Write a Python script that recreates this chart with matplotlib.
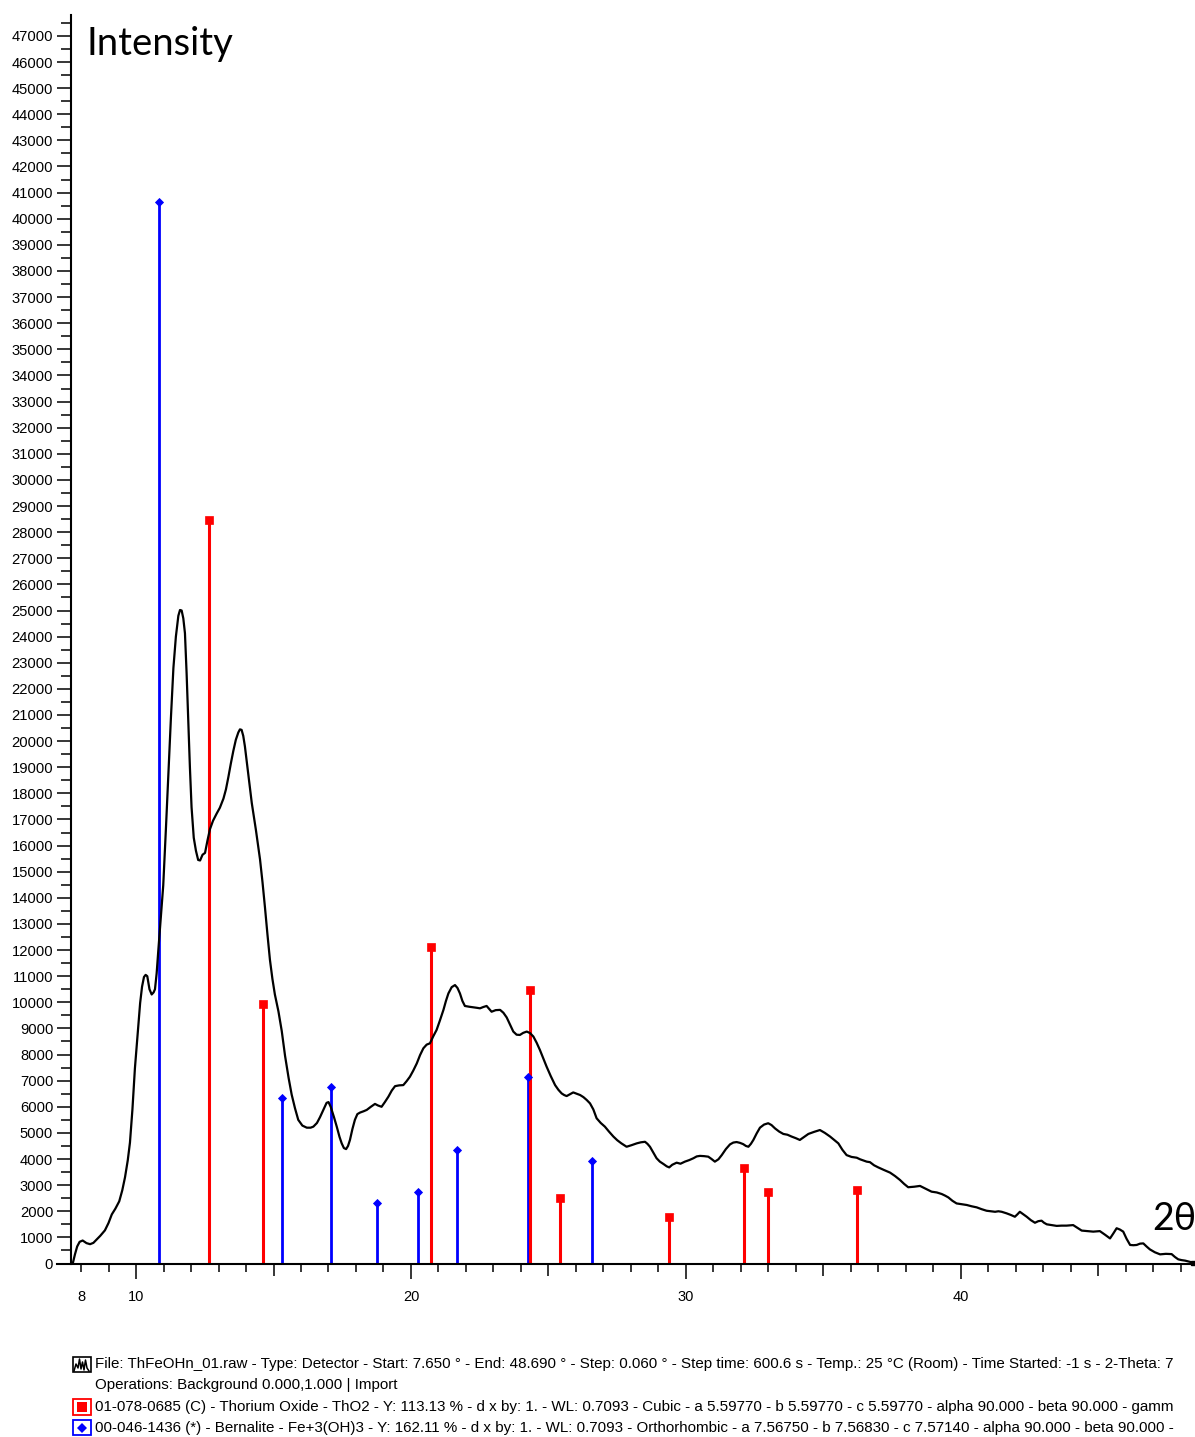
import matplotlib
matplotlib.use("Agg")
import matplotlib.pyplot as plt
import matplotlib.transforms as mtransforms
from matplotlib.patches import Rectangle
from matplotlib.lines import Line2D
from matplotlib.ticker import MultipleLocator

# ── Data ────────────────────────────────────────────────────
two_theta = [
    7.70, 7.78, 7.86, 7.95, 8.06, 8.20, 8.33, 8.45, 8.55, 8.70, 8.87, 9.00, 9.12, 9.25,
    9.39, 9.50, 9.60, 9.70, 9.78, 9.87, 9.96, 10.06, 10.15, 10.22, 10.29, 10.35, 10.41,
    10.49, 10.57, 10.64, 10.69, 10.75, 10.81, 10.90, 10.99, 11.09, 11.18, 11.27, 11.36,
    11.45, 11.54, 11.60, 11.66, 11.72, 11.78, 11.84, 11.90, 11.96, 12.02, 12.10, 12.18,
    12.26, 12.33, 12.42, 12.51, 12.60, 12.69, 12.80, 12.93, 13.05, 13.18, 13.27, 13.36,
    13.45, 13.54, 13.63, 13.72, 13.78, 13.84, 13.90, 13.96, 14.08, 14.21, 14.36, 14.51,
    14.60, 14.69, 14.78, 14.87, 14.96, 15.05, 15.18, 15.30, 15.42, 15.55, 15.66, 15.78,
    15.90, 16.05, 16.21, 16.35, 16.45, 16.58, 16.69, 16.81, 16.93, 17.00, 17.08, 17.20,
    17.30, 17.40, 17.48, 17.56, 17.64, 17.71, 17.78, 17.87, 17.96, 18.05, 18.15, 18.28,
    18.39, 18.54, 18.69, 18.80, 18.93, 19.05, 19.18, 19.30, 19.42, 19.57, 19.72, 19.84,
    19.96, 20.08, 20.21, 20.33, 20.45, 20.57, 20.69, 20.81, 20.93, 21.05, 21.18, 21.27,
    21.36, 21.48, 21.60, 21.69, 21.78, 21.87, 21.96, 22.12, 22.27, 22.39, 22.51, 22.63,
    22.75, 22.84, 22.93, 23.08, 23.24, 23.36, 23.48, 23.60, 23.72, 23.84, 23.96, 24.08,
    24.21, 24.33, 24.45, 24.57, 24.69, 24.81, 24.93, 25.08, 25.24, 25.36, 25.48, 25.57,
    25.66, 25.78, 25.90, 26.02, 26.15, 26.27, 26.39, 26.51, 26.63, 26.75, 26.90, 27.05,
    27.20, 27.36, 27.50, 27.65, 27.84, 28.02, 28.21, 28.36, 28.51, 28.60, 28.69, 28.81,
    28.93, 29.05, 29.18, 29.30, 29.39, 29.50, 29.66, 29.80, 29.96, 30.12, 30.27, 30.39,
    30.51, 30.66, 30.81, 30.93, 31.05, 31.18, 31.30, 31.45, 31.60, 31.72, 31.84, 31.96,
    32.08, 32.18, 32.27, 32.36, 32.45, 32.57, 32.69, 32.84, 32.99, 33.11, 33.24, 33.39,
    33.54, 33.69, 33.84, 33.99, 34.14, 34.30, 34.45, 34.66, 34.87, 35.05, 35.24, 35.39,
    35.54, 35.69, 35.84, 36.02, 36.21, 36.33, 36.57, 36.69, 36.84, 36.99, 37.20, 37.42,
    37.60, 37.78, 37.93, 38.08, 38.30, 38.51, 38.72, 38.93, 39.12, 39.30, 39.42, 39.54,
    39.69, 39.84, 40.03, 40.21, 40.39, 40.57, 40.75, 40.93, 41.09, 41.24, 41.36, 41.48,
    41.66, 41.81, 41.96, 42.05, 42.14, 42.27, 42.39, 42.54, 42.69, 42.81, 42.93, 43.02,
    43.12, 43.30, 43.48, 43.66, 43.84, 43.96, 44.08, 44.24, 44.39, 44.60, 44.81, 44.93,
    45.05, 45.24, 45.42, 45.54, 45.66, 45.78, 45.90, 46.02, 46.15, 46.27, 46.39, 46.51,
    46.63, 46.75, 46.87, 47.05, 47.24, 47.45, 47.66, 47.78, 47.90, 48.02, 48.15, 48.30,
    48.45,
]
intensity = [
    0, 350, 650, 830, 880, 780, 740, 790, 900, 1060, 1270, 1550, 1880, 2100,
    2380, 2800, 3300, 3950, 4630, 5900, 7470, 8800, 9970, 10600, 10970, 11050, 11000,
    10500, 10300, 10380, 10500, 11100, 11970, 13200, 14470, 16700, 18800, 20900, 22800,
    24000, 24800, 25020, 25000, 24700, 24130, 22600, 20800, 19000, 17470, 16300, 15800,
    15450, 15430, 15650, 15720, 16200, 16630, 16950, 17220, 17450, 17800, 18150, 18630,
    19150, 19630, 20050, 20330, 20450, 20430, 20200, 19800, 18750, 17630, 16600, 15470,
    14600, 13630, 12600, 11630, 10900, 10300, 9650, 8900, 7950, 7100, 6470, 5950,
    5500, 5280, 5200, 5200, 5240, 5380, 5600, 5880, 6150, 6180, 6000, 5600,
    5240, 4850, 4600, 4420, 4380, 4500, 4730, 5150, 5500, 5720, 5780, 5830,
    5880, 6000, 6110, 6050, 6000, 6180, 6390, 6620, 6790, 6820, 6830, 6980,
    7150, 7380, 7660, 7980, 8240, 8380, 8430, 8700, 8940, 9300, 9710, 10050,
    10340, 10580, 10660, 10550, 10340, 10050, 9860, 9830, 9810, 9790, 9770, 9820,
    9860, 9750, 9640, 9700, 9710, 9600, 9420, 9150, 8880, 8760, 8750, 8830,
    8880, 8820, 8690, 8450, 8170, 7850, 7540, 7180, 6830, 6650, 6510, 6450,
    6410, 6480, 6550, 6500, 6450, 6370, 6260, 6130, 5900, 5560, 5380, 5240,
    5050, 4860, 4720, 4600, 4470, 4530, 4600, 4640, 4660, 4580, 4470, 4250,
    4030, 3900, 3810, 3720, 3680, 3780, 3860, 3820, 3900, 3960, 4030, 4100,
    4120, 4110, 4090, 4000, 3900, 3990, 4150, 4380, 4560, 4630, 4650, 4620,
    4570, 4500, 4470, 4580, 4730, 4980, 5200, 5320, 5370, 5300, 5170, 5050,
    4960, 4930, 4860, 4800, 4730, 4850, 4960, 5040, 5110, 5000, 4860, 4730,
    4600, 4350, 4150, 4080, 4050, 3990, 3900, 3880, 3760, 3680, 3580, 3480,
    3350, 3200, 3050, 2920, 2940, 2970, 2860, 2750, 2720, 2660, 2600, 2530,
    2400, 2300, 2270, 2240, 2190, 2150, 2080, 2020, 2000, 1980, 2000, 1980,
    1920, 1860, 1790, 1880, 1980, 1880, 1790, 1660, 1560, 1620, 1640, 1560,
    1500, 1470, 1440, 1450, 1450, 1460, 1470, 1360, 1260, 1240, 1220, 1230,
    1240, 1100, 960, 1150, 1350, 1300, 1220, 950, 710, 700, 710, 760,
    770, 650, 540, 430, 350, 370, 360, 250, 160, 130, 110, 70,
    30,
]

# reference patterns (stick positions / heights)
tho2_pos = [12.66, 14.62, 20.71, 24.33, 25.42, 29.39, 32.11, 32.97, 36.21]
tho2_int = [28470, 9940, 12130, 10470, 2520, 1790, 3640, 2720, 2810]
bern_pos = [10.82, 15.30, 17.10, 18.75, 20.26, 21.66, 24.24, 26.59]
bern_int = [40650, 6320, 6750, 2330, 2740, 4340, 7150, 3940]

x_tick_pos = [8, 10, 20, 30, 40]
x_tick_labels = ["8", "10", "20", "30", "40"]
x_mid_ticks = [15, 25, 35, 45]
y_tick_pos = list(range(0, 48000, 1000))
y_tick_labels = [str(v) for v in y_tick_pos]

legend_lines = [
    "File: ThFeOHn_01.raw - Type: Detector - Start: 7.650 \u00b0 - End: 48.690 \u00b0 - Step: 0.060 \u00b0 "
    "- Step time: 600.6 s - Temp.: 25 \u00b0C (Room) - Time Started: -1 s - 2-Theta: 7",
    "Operations: Background 0.000,1.000 | Import",
    "01-078-0685 (C) - Thorium Oxide - ThO2 - Y: 113.13 % - d x by: 1. - WL: 0.7093 - Cubic "
    "- a 5.59770 - b 5.59770 - c 5.59770 - alpha 90.000 - beta 90.000 - gamm",
    "00-046-1436 (*) - Bernalite - Fe+3(OH)3 - Y: 162.11 % - d x by: 1. - WL: 0.7093 - Orthorhombic "
    "- a 7.56750 - b 7.56830 - c 7.57140 - alpha 90.000 - beta 90.000 -",
]

RED = "#ff0000"
BLUE = "#0000ff"
W, H = 1195, 1437

plt.rcParams.update({
    "font.family": ["Liberation Sans", "DejaVu Sans"],
    "font.size": 10.5,
})

fig = plt.figure(figsize=(W / 100, H / 100), dpi=100)
# pixel (from top-left) -> display coords
pix = mtransforms.Affine2D().scale(1, -1).translate(0, H)

ax = fig.add_axes([57 / W, (H - 1263.5) / H, (W - 57) / W, (1263.5 - 15) / H])
ax.set_xlim(7.127, 48.51)
ax.set_ylim(0, 47800)

# sticks of the two reference phases
ax.vlines(bern_pos, 0, bern_int, color=BLUE, linewidth=2.0, zorder=2)
ax.plot(bern_pos, bern_int, "D", color=BLUE, markersize=4.0, markeredgewidth=0.6, zorder=3)
ax.vlines(tho2_pos, 0, tho2_int, color=RED, linewidth=2.2, zorder=2)
ax.plot(tho2_pos, tho2_int, "s", color=RED, markersize=5.5, markeredgewidth=0.5, zorder=3)

# measured pattern
ax.plot(two_theta, intensity, color="black", linewidth=1.6, zorder=4)
ax.plot(two_theta[-1], intensity[-1], "s", color="black", markersize=3, zorder=4, clip_on=False)

# axes styling
for s in ("top", "right"):
    ax.spines[s].set_visible(False)
ax.spines["left"].set_position(("data", 7.65))
ax.spines["left"].set_linewidth(1.5)
ax.spines["bottom"].set_linewidth(1.5)

ax.set_yticks(y_tick_pos, y_tick_labels)
ax.yaxis.set_minor_locator(MultipleLocator(500))
ax.tick_params(axis="y", which="major", direction="out", length=9.8, width=1.1, pad=3.3,
               labelsize=10.6)
ax.tick_params(axis="y", which="minor", direction="out", length=7.3, width=1.1)

ax.set_xticks(x_tick_pos, x_tick_labels)
ax.set_xticks([v for v in range(9, 49) if v not in x_tick_pos], minor=True)
ax.tick_params(axis="x", which="major", direction="out", length=10.8, width=1.1, pad=8.0,
               labelsize=10.5)
ax.tick_params(axis="x", which="minor", direction="out", length=5.8, width=1.1)
# "8" sits on a short tick, 15/25/35/45 get medium ticks
ax.xaxis.get_major_ticks()[0].tick1line.set_markersize(5.8)
minor_locs = [v for v in range(9, 49) if v not in x_tick_pos]
for t, v in zip(ax.xaxis.get_minor_ticks(len(minor_locs)), minor_locs):
    if v in x_mid_ticks:
        t.tick1line.set_markersize(8.3)

title_font = ["Lato", "DejaVu Sans"]
fig.text(86, 55, "Intensity", transform=pix, fontsize=27.5, family=title_font,
         ha="left", va="baseline")
fig.text(1152, 1230, "2\u03b8", transform=pix, fontsize=27, family=title_font,
         ha="left", va="baseline")

# legend block under the plot
text_y = [1364, 1385.5, 1407, 1428]
for y, s in zip(text_y, legend_lines):
    fig.text(95, y, s, transform=pix, fontsize=10.9, ha="left", va="center")

# icon: measured pattern
fig.add_artist(Rectangle((73, 1357), 18, 15, transform=pix, facecolor="white",
                         edgecolor="black", linewidth=1.2))
fig.add_artist(Line2D([74, 76, 78, 79.5, 81, 82.5, 84, 85.5, 87, 89],
                      [1371, 1364, 1368, 1359, 1369, 1362, 1370, 1360, 1368, 1371],
                      transform=pix, color="black", linewidth=1.1))
# icon: ThO2
fig.add_artist(Rectangle((73, 1399), 18, 16, transform=pix, facecolor="white",
                         edgecolor=RED, linewidth=1.3))
fig.add_artist(Line2D([82], [1407], transform=pix, marker="s", markersize=7,
                      color=RED, markeredgewidth=0))
# icon: Bernalite
fig.add_artist(Rectangle((73, 1420), 18, 15, transform=pix, facecolor="white",
                         edgecolor=BLUE, linewidth=1.3))
fig.add_artist(Line2D([82], [1427.5], transform=pix, marker="D", markersize=5,
                      color=BLUE, markeredgewidth=0))

fig.savefig("out.png", dpi=100)
